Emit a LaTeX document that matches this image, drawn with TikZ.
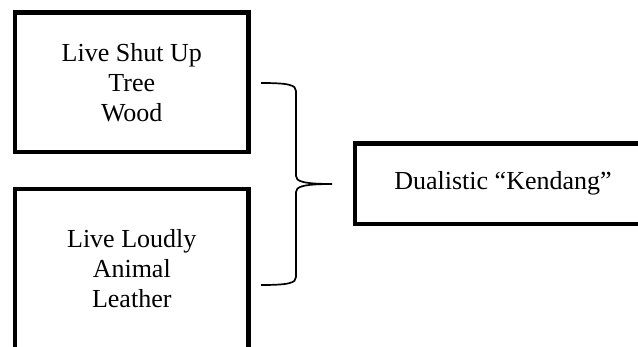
\documentclass[tikz,border=0pt]{standalone}
\usepackage{fontspec}
\setmainfont{Liberation Serif}
\begin{document}
\begin{tikzpicture}[x=1pt,y=-1pt,
  box/.style={draw=black,line width=4.5pt,rectangle,inner sep=0pt,align=center,
    font=\fontsize{26}{30}\selectfont},
  bracepath/.style={draw=black,line width=1.7pt,line cap=butt,line join=round}]
\useasboundingbox (0,0) rectangle (638,347);
\node[box,minimum width=233.5pt,minimum height=139.5pt] (a) at (131.75,82.25)
  {Live Shut Up\\Tree\\Wood};
\node[box,minimum width=233.5pt,minimum height=160pt] (b) at (131.75,269)
  {Live Loudly\\Animal\\Leather};
\node[box,minimum width=296pt,minimum height=80.5pt] (c) at (503,183.75)
  {Dualistic “Kendang”};
\coordinate (btop) at (261,83);
\coordinate (bbot) at (261,285);
\coordinate (btip) at (332,184);
\draw[bracepath] (btop) .. controls (289,83) and (296,85) .. (296,91)
  -- (296,176) .. controls (296,181) and (302,184) .. (btip);
\draw[bracepath] (btip) .. controls (302,184) and (296,187) .. (296,192)
  -- (296,277) .. controls (296,283) and (289,285) .. (bbot);
\end{tikzpicture}
\end{document}
